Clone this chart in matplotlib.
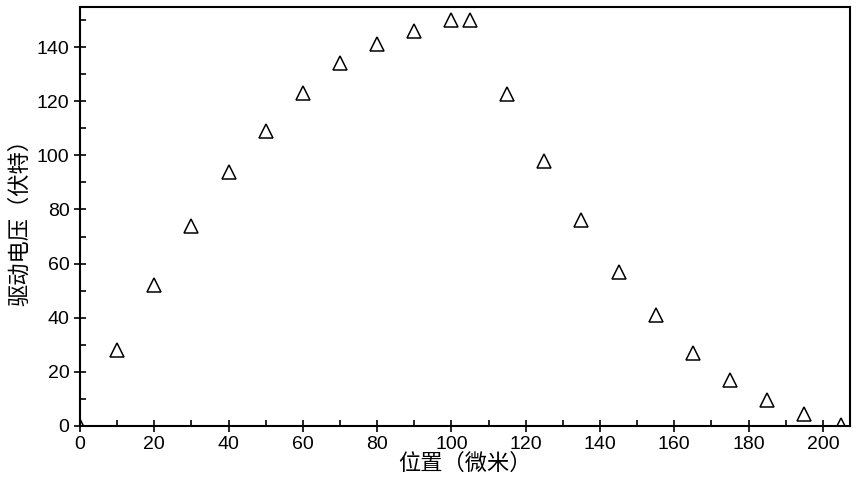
import matplotlib
matplotlib.use("Agg")
import matplotlib.pyplot as plt
from matplotlib.ticker import MultipleLocator

plt.rcParams['font.family'] = ['Liberation Sans', 'Noto Sans CJK SC', 'DejaVu Sans']

# position (um) vs drive voltage (V)
position = [0, 10, 20, 30, 40, 50, 60, 70, 80, 90, 100, 105,
            115, 125, 135, 145, 155, 165, 175, 185, 195, 205]
voltage = [0, 28, 52, 74, 94, 109, 123, 134, 141, 146, 150, 150,
           122.5, 98, 76, 57, 41, 27, 17, 9.5, 4.5, 0.5]

fig = plt.figure(figsize=(8.58, 4.93), dpi=100)
ax = fig.add_axes([80 / 858, 67 / 493, 770 / 858, 419 / 493])

ax.plot(position, voltage, linestyle='none', marker='^', markersize=10,
        markerfacecolor='none', markeredgecolor='black', markeredgewidth=1.1,
        clip_on=True)

ax.set_xlim(0, 207.3)
ax.set_ylim(0, 154.8)
ax.xaxis.set_major_locator(MultipleLocator(20))
ax.xaxis.set_minor_locator(MultipleLocator(10))
ax.yaxis.set_major_locator(MultipleLocator(20))
ax.yaxis.set_minor_locator(MultipleLocator(10))
ax.tick_params(which='major', direction='inout', length=8, width=1.2, labelsize=14)
ax.tick_params(which='minor', direction='in', length=4, width=1.2)
for s in ax.spines.values():
    s.set_linewidth(1.5)

ax.set_xlabel('位置（微米）', fontsize=16, labelpad=0)
ax.set_ylabel('驱动电压（伏特）', fontsize=16, labelpad=4)

fig.savefig('out.png', dpi=100)
